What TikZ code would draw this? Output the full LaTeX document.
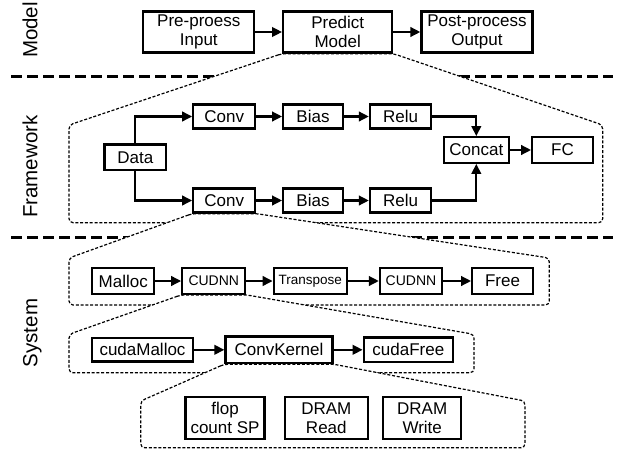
\documentclass[tikz,border=0pt]{standalone}
\usepackage{fontspec}
\setmainfont{Liberation Sans}
\usetikzlibrary{arrows.meta,backgrounds}
\begin{document}
\begin{tikzpicture}[x=1pt,y=-1pt,
  box/.style={draw,line width=2.3pt,fill=white,inner sep=0pt,align=center,font=\fontsize{17}{19.5}\selectfont},
  arr/.style={line width=2.3pt,-{Triangle[length=10pt,width=9.5pt]}},
  sepline/.style={line width=2.8pt,dash pattern=on 11pt off 5pt},
  zoomarea/.style={draw,fill=white,line width=1.2pt,dash pattern=on 3pt off 1.8pt,rounded corners=4pt},
  side/.style={rotate=90,anchor=base,font=\fontsize{20.5}{22}\selectfont},
]
\useasboundingbox (0,0) rectangle (620,452);

% side labels
\node[side] (lblmodel) at (37.3,30) {Model};
\node[side] (lblframe) at (37.3,166.7) {Framework};
\node[side] (lblsys) at (37.3,333) {System};

% model level
\node[box,minimum width=111pt,minimum height=41pt] (pre) at (198.8,32) {Pre-proess\\Input};
\node[box,minimum width=109pt,minimum height=41pt] (pred) at (337.7,32) {Predict\\Model};
\node[box,minimum width=111pt,minimum height=41pt] (post) at (477,32) {Post-process\\Output};
\draw[arr] (pre) -- (pred);
\draw[arr] (pred) -- (post);

% framework level
\node[box,minimum width=61.5pt,minimum height=25.5pt] (data) at (135.3,157.3) {Data};
\node[box,minimum width=62pt,minimum height=24pt] (conva) at (224.3,116.5) {Conv};
\node[box,minimum width=59.5pt,minimum height=24pt] (biasa) at (313,116.5) {Bias};
\node[box,minimum width=61pt,minimum height=24pt] (relua) at (400.5,116.5) {Relu};
\node[box,minimum width=62pt,minimum height=24pt] (convb) at (224.3,200.5) {Conv};
\node[box,minimum width=59.5pt,minimum height=24pt] (biasb) at (313,200.5) {Bias};
\node[box,minimum width=61pt,minimum height=24pt] (relub) at (400.5,200.5) {Relu};
\node[box,minimum width=65pt,minimum height=25.5pt] (concat) at (476.3,150) {Concat};
\node[box,minimum width=60.5pt,minimum height=25.5pt] (fc) at (562.5,150) {FC};
\draw[arr] (data.north) |- (conva.west);
\draw[arr] (data.south) |- (convb.west);
\draw[arr] (conva) -- (biasa);
\draw[arr] (biasa) -- (relua);
\draw[arr] (convb) -- (biasb);
\draw[arr] (biasb) -- (relub);
\draw[arr] (relua.east) -| (concat.north);
\draw[arr] (relub.east) -| (concat.south);
\draw[arr] (concat) -- (fc);

% system level, row 1
\node[box,minimum width=62pt,minimum height=25.5pt] (malloc) at (123.3,281) {Malloc};
\node[box,minimum width=63pt,minimum height=25.5pt,font=\fontsize{14}{16}\selectfont] (cudnna) at (213.8,281) {CUDNN};
\node[box,minimum width=73pt,minimum height=25.5pt,font=\fontsize{13.5}{16}\selectfont] (trans) at (310.3,281) {Transpose};
\node[box,minimum width=62pt,minimum height=25.5pt,font=\fontsize{14}{16}\selectfont] (cudnnb) at (411,281) {CUDNN};
\node[box,minimum width=60.5pt,minimum height=25.5pt] (free) at (502.5,281) {Free};
\draw[arr] (malloc) -- (cudnna);
\draw[arr] (cudnna) -- (trans);
\draw[arr] (trans) -- (cudnnb);
\draw[arr] (cudnnb) -- (free);

% system level, row 2
\node[box,minimum width=100.5pt,minimum height=23.5pt] (cmalloc) at (142.5,349.8) {cudaMalloc};
\node[box,minimum width=107pt,minimum height=26.5pt] (ckernel) at (279,349.8) {ConvKernel};
\node[box,minimum width=89pt,minimum height=24.5pt] (cfree) at (408.3,349.8) {cudaFree};
\draw[arr] (cmalloc) -- (ckernel);
\draw[arr] (ckernel) -- (cfree);

% system level, row 3
\node[box,minimum width=79pt,minimum height=41.5pt] (flop) at (225,418) {flop\\count SP};
\node[box,minimum width=83pt,minimum height=41.5pt] (dread) at (326.3,418) {DRAM\\Read};
\node[box,minimum width=78pt,minimum height=41.5pt] (dwrite) at (422.2,418) {DRAM\\Write};

\begin{scope}[on background layer]
\draw[sepline] (11,76.7) -- (613,76.7);
\draw[sepline] (11,237.7) -- (613,237.7);
\draw[zoomarea] (pred.south west) -- (69,125) -- (69,222.7) -- (602.7,222.7) -- (602.7,125) -- (pred.south east) -- cycle;
\draw[zoomarea] (convb.south west) -- (69,258) -- (69,305) -- (549.3,305) -- (549.3,258) -- (convb.south east) -- cycle;
\draw[zoomarea] (cudnna.south west) -- (69,334.3) -- (69,372.7) -- (474,372.7) -- (474,334.3) -- (cudnna.south east) -- cycle;
\draw[zoomarea] (ckernel.south west) -- (140.7,401) -- (140.7,447.7) -- (525,447.7) -- (525,401) -- (ckernel.south east) -- cycle;
\end{scope}
\end{tikzpicture}
\end{document}
